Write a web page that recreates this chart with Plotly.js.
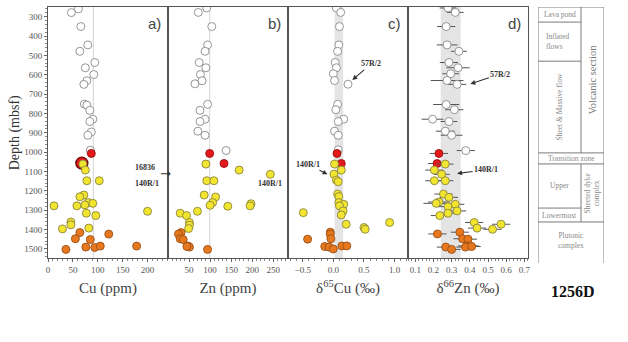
<!DOCTYPE html>
<html><head><meta charset="utf-8">
<script src="https://cdn.plot.ly/plotly-3.0.1.min.js"></script>
<style>html,body{margin:0;padding:0;background:#fff}#chart{width:628px;height:342px}</style>
</head><body><div id="chart"></div>
<script>
// ---------- DATA ----------
// Panel a: Cu (ppm)
const cuWhiteDepth = [260,279,351,446,479,537,564,599,631,650,752,757,784,830,842,896,913,990];
const cuWhite      = [61,47,66,80,64,94,75,92,78,72,73,78,84,90,84,87,80,85];
const cuRedDepth   = [1007];
const cuRed        = [87];
const cuRingDepth  = [1057];
const cuRing       = [68];
const cuYellowDepth= [1062,1093,1148,1148,1222,1231,1261,1265,1273,1278,1278,1306,1316,1328,1362,1376,1397,1393];
const cuYellow     = [70,75,78,103,72,64,81,90,74,58,12,200,77,96,46,46,29,82];
const cuOrangeDepth= [1416,1424,1448,1452,1491,1493,1486,1486,1503];
const cuOrange     = [64,122,55,85,76,94,105,178,36];
const cuMean = 91;

// Panel b: Zn (ppm)
const znWhiteDepth = [255,278,351,446,479,537,564,599,631,647,753,784,830,842,892,913,992];
const znWhite      = [92,72,104,94,88,74,90,77,81,64,94,76,88,76,71,88,138];
const znRedDepth   = [1007,1059];
const znRed        = [99,133];
const znYellowDepth= [1062,1093,1115,1148,1148,1222,1232,1261,1275,1280,1267,1278,1306,1316,1328,1364,1378,1395];
const znYellow     = [90,169,243,92,109,86,113,106,100,142,197,195,70,29,44,51,51,49];
const znOrangeDepth= [1416,1424,1448,1452,1485,1491,1488,1503];
const znOrange     = [31,25,29,36,47,51,45,94];
const znMean = 99;

// Panel c: d65Cu (permil)
const c65WhiteDepth = [255,278,351,446,479,537,564,595,630,649,753,781,830,842,892,913,988];
const c65White      = [0.05,0.12,0.10,0.09,0.07,0.03,0.05,0.00,0.02,0.24,0.07,0.04,0.17,0.08,0.02,0.08,0.08];
const c65WhiteErr   = [0,0,0,0,0,0,0.04,0.05,0,0,0,0,0,0,0,0,0];
const c65RedDepth   = [1007,1059];
const c65Red        = [0.06,0.13];
const c65YellowDepth= [1062,1093,1114,1145,1153,1217,1230,1261,1270,1278,1304,1325,1313,1373,1390,1399,1364];
const c65Yellow     = [0.02,0.13,0.01,0.05,0.08,0.07,0.09,0.09,0.17,0.10,0.16,0.13,-0.49,0.21,0.50,0.52,0.92];
const c65OrangeDepth= [1414,1424,1448,1450,1488,1491,1501,1485,1485];
const c65Orange     = [-0.05,-0.05,-0.04,-0.42,-0.14,-0.07,0.00,0.14,0.22];
const c65Band = [0.02, 0.16];

// Panel d: d66Zn (permil)
const z66WhiteDepth = [255,278,351,446,479,537,564,595,630,650,754,781,830,842,892,913,992];
const z66White      = [0.28,0.32,0.27,0.275,0.34,0.285,0.335,0.295,0.275,0.33,0.27,0.315,0.195,0.285,0.265,0.30,0.378];
const z66WhiteErr   = [0.046,0.046,0.05,0.057,0.044,0.05,0.064,0.046,0.09,0.05,0.072,0.05,0.06,0.046,0.052,0.06,0.05];
const z66RedDepth   = [1007,1059];
const z66Red        = [0.23,0.22];
const z66RedErr     = [0.05,0.05];
const z66YellowDepth= [1062,1093,1115,1148,1148,1217,1234,1258,1265,1270,1282,1304,1316,1328,1364,1373,1393,1399];
const z66Yellow     = [0.265,0.205,0.245,0.205,0.265,0.255,0.285,0.23,0.215,0.32,0.28,0.33,0.28,0.235,0.424,0.572,0.44,0.525];
const z66YellowErr  = [0.045,0.05,0.045,0.05,0.045,0.05,0.05,0.06,0.07,0.05,0.06,0.05,0.05,0.05,0.05,0.05,0.05,0.05];
const z66OrangeDepth= [1423,1414,1448,1450,1485,1485,1491,1491,1503,1488];
const z66Orange     = [0.222,0.345,0.36,0.39,0.385,0.40,0.376,0.268,0.30,0.41];
const z66OrangeErr  = [0.05,0.05,0.05,0.05,0.05,0.05,0.05,0.05,0.05,0.05];
const z66Band = [0.24, 0.35];

// Lithology (depth boundaries, mbsf)
const lithBounds = [250, 328, 530, 1004, 1061, 1289, 1361, 1573];

// ---------- STYLE ----------
const SERIF = '"Liberation Serif", "Times New Roman", serif';
const SANS = '"Liberation Sans", Arial, sans-serif';
const STY = {
  white:  {color:'#ffffff', line:'#8a8a8a'},
  red:    {color:'#e3191c', line:'#9a1010'},
  yellow: {color:'#f2e530', line:'#8c8440'},
  orange: {color:'#e8781e', line:'#9a5018'}
};
function pts(x, y, xa, ya, kind, err, size) {
  const t = {
    type:'scatter', mode:'markers', x:x, y:y, xaxis:xa, yaxis:ya,
    marker:{size:size||8, color:STY[kind].color, line:{color:STY[kind].line, width:0.9}},
    hoverinfo:'skip', showlegend:false
  };
  if (err) t.error_x = {type:'data', array:err, visible:true, color:'#555', thickness:1, width:0};
  return t;
}

const traces = [
  pts(cuWhite, cuWhiteDepth, 'x', 'y', 'white'),
  pts(cuRed, cuRedDepth, 'x', 'y', 'red'),
  {type:'scatter', mode:'markers', x:cuRing, y:cuRingDepth, xaxis:'x', yaxis:'y',
   marker:{size:12, color:'#e3191c', line:{color:'#6a0a0a', width:1.4}}, hoverinfo:'skip', showlegend:false},
  pts(cuYellow, cuYellowDepth, 'x', 'y', 'yellow'),
  pts(cuOrange, cuOrangeDepth, 'x', 'y', 'orange'),
  pts(znWhite, znWhiteDepth, 'x2', 'y2', 'white'),
  pts(znRed, znRedDepth, 'x2', 'y2', 'red'),
  pts(znYellow, znYellowDepth, 'x2', 'y2', 'yellow'),
  pts(znOrange, znOrangeDepth, 'x2', 'y2', 'orange'),
  pts(c65White, c65WhiteDepth, 'x3', 'y3', 'white', c65WhiteErr),
  pts(c65Red, c65RedDepth, 'x3', 'y3', 'red'),
  pts(c65Yellow, c65YellowDepth, 'x3', 'y3', 'yellow'),
  pts(c65Orange, c65OrangeDepth, 'x3', 'y3', 'orange'),
  pts(z66White, z66WhiteDepth, 'x4', 'y4', 'white', z66WhiteErr),
  pts(z66Red, z66RedDepth, 'x4', 'y4', 'red', z66RedErr),
  pts(z66Yellow, z66YellowDepth, 'x4', 'y4', 'yellow', z66YellowErr),
  pts(z66Orange, z66OrangeDepth, 'x4', 'y4', 'orange', z66OrangeErr)
];

// ---------- LAYOUT ----------
const yDom = [0.0176, 1];
const depthRange = [1550, 250];
const tickFont = {family:SERIF, size:9, color:'#555'};
const titleFont = {family:SERIF, size:15, color:'#444'};
function xax(dom, anchor, range, tickvals, minorDt, title, fmt) {
  return {
    domain:dom, anchor:anchor, range:range, tickvals:tickvals, tickformat:fmt||'',
    ticks:'outside', ticklen:3, tickwidth:1, tickcolor:'#666',
    minor:{dtick:minorDt, ticks:'outside', ticklen:2, tickcolor:'#888'},
    showline:true, linecolor:'#555', linewidth:1, mirror:true,
    showgrid:false, zeroline:false, tickfont:tickFont,
    title:{text:title, font:titleFont, standoff:8}
  };
}
function yax(anchor, main) {
  const o = {domain:yDom, anchor:anchor, range:depthRange, showgrid:false, zeroline:false,
    showline:true, linecolor:'#555', linewidth:1, mirror:true};
  if (main) {
    Object.assign(o, {tickvals:[300,400,500,600,700,800,900,1000,1100,1200,1300,1400,1500],
      ticks:'outside', ticklen:3, tickcolor:'#666', tickfont:tickFont,
      minor:{dtick:20, ticks:'outside', ticklen:2, tickcolor:'#888'},
      title:{text:'Depth (mbsf)', font:{family:SERIF, size:14, color:'#333'}, standoff:1}});
  } else {
    Object.assign(o, {matches:'y', showticklabels:false, ticks:''});
  }
  return o;
}

const dA=[0,0.2158], dB=[0.2158,0.4317], dC=[0.4317,0.6475], dD=[0.6475,0.8633], dL=[0.8813,1];

const shapes = [
  {type:'line', xref:'x', x0:cuMean, x1:cuMean, yref:'y domain', y0:0, y1:1, line:{color:'#d4d4d4', width:1}, layer:'below'},
  {type:'line', xref:'x2', x0:znMean, x1:znMean, yref:'y2 domain', y0:0, y1:1, line:{color:'#d4d4d4', width:1}, layer:'below'},
  {type:'rect', xref:'x3', x0:c65Band[0], x1:c65Band[1], yref:'y3 domain', y0:0, y1:1, fillcolor:'#e4e4e4', line:{width:0}, layer:'below'},
  {type:'rect', xref:'x4', x0:z66Band[0], x1:z66Band[1], yref:'y4 domain', y0:0, y1:1, fillcolor:'#e4e4e4', line:{width:0}, layer:'below'}
];
const LW = 43, RW = 66;
const lc = {color:'#7a7a7a', width:1};
function L(x0,x1,y0,y1){ shapes.push({type:'line', xref:'x5', yref:'y5', x0:x0, x1:x1, y0:y0, y1:y1, line:lc}); }
const B = lithBounds;
L(0,0,B[0],B[7]); L(RW,RW,B[0],B[7]); L(0,RW,B[0],B[0]);
L(LW,LW,B[0],B[3]); L(LW,LW,B[4],B[6]);
L(0,LW,B[1],B[1]); L(0,LW,B[2],B[2]); L(0,LW,B[5],B[5]);
L(0,RW,B[3],B[3]); L(0,RW,B[4],B[4]); L(0,RW,B[6],B[6]);

const annFont = {family:SERIF, size:8, color:'#333', weight:'bold'};
const lithFont = {family:SERIF, size:7.5, color:'#8a8a8a'};
function panelLbl(t, xr, yr){ return {text:t, xref:xr+' domain', yref:yr+' domain', x:0.955, y:0.975, xanchor:'right', yanchor:'top', showarrow:false, font:{family:SANS, size:15, color:'#444'}}; }
function txt(t, xr, yr, x, y, f, extra){ return Object.assign({text:t, xref:xr, yref:yr, x:x, y:y, showarrow:false, font:f||annFont}, extra||{}); }
function arrTxt(t, xr, yr, x, y, ax, ay){ return {text:t, xref:xr, yref:yr, x:x, y:y, ax:ax, ay:ay, showarrow:true, arrowhead:2, arrowsize:0.9, arrowwidth:1.1, arrowcolor:'#333', standoff:0, font:annFont}; }
const mid = (a,b)=>(a+b)/2;

const annotations = [
  panelLbl('a)','x','y'), panelLbl('b)','x2','y2'), panelLbl('c)','x3','y3'), panelLbl('d)','x4','y4'),
  txt('16836','x','y',195,1082), txt('140R/1','x','y',199,1160),
  txt('→','x','y',236,1110,{family:'DejaVu Sans', size:13, color:'#333'}),
  txt('140R/1','x2','y2',243,1160),
  arrTxt('57R/2','x3','y3',0.31,627,19,-16),
  arrTxt('140R/1','x3','y3',-0.095,1115,-20,-10),
  arrTxt('57R/2','x4','y4',0.403,648,30,-10),
  arrTxt('140R/1','x4','y4',0.33,1111,29,-4),
  txt('Lava pond','x5','y5',LW/2,mid(B[0],B[1]),lithFont),
  txt('Inflated<br>flows','x5','y5',6,mid(B[1],B[2]),lithFont,{xanchor:'left', align:'left'}),
  txt('Sheet &amp; Massive flow','x5','y5',LW/2,mid(B[2],B[3]),lithFont,{textangle:-90}),
  txt('Volcanic section','x5','y5',mid(LW,RW),mid(B[0],B[3]),{family:SERIF, size:10.5, color:'#777'},{textangle:-90}),
  txt('Transition zone','x5','y5',RW/2,mid(B[3],B[4]),lithFont),
  txt('Upper','x5','y5',LW/2,mid(B[4],B[5]),lithFont),
  txt('Lowermost','x5','y5',LW/2,mid(B[5],B[6]),lithFont),
  txt('Sheeted dyke<br>complex','x5','y5',mid(LW,RW),mid(B[4],B[6]),lithFont,{textangle:-90}),
  txt('Plutonic<br>complex','x5','y5',RW/2,mid(B[6],B[7]) - 10,lithFont),
  {text:'<b>1256D</b>', xref:'paper', yref:'paper', x:0.944, y:-0.113, xanchor:'center', yanchor:'middle', showarrow:false, font:{family:SERIF, size:16, color:'#111'}}
];

const layout = {
  width:628, height:342, margin:{l:48, r:24, t:7, b:79},
  paper_bgcolor:'#fff', plot_bgcolor:'rgba(0,0,0,0)', font:{family:SERIF},
  showlegend:false,
  xaxis:  xax(dA,'y', [0,241],[0,50,100,150,200],10,'Cu (ppm)'),
  xaxis2: xax(dB,'y2',[0,285],[50,100,150,200,250],10,'Zn (ppm)'),
  xaxis3: xax(dC,'y3',[-0.74,1.22],[-0.5,0,0.5,1.0],0.1,'δ<sup>65</sup>Cu (‰)','.1f'),
  xaxis4: xax(dD,'y4',[0.06,0.72],[0.1,0.2,0.3,0.4,0.5,0.6,0.7],0.02,'δ<sup>66</sup>Zn (‰)','.1f'),
  yaxis:  yax('x', true),
  yaxis2: yax('x2'), yaxis3: yax('x3'), yaxis4: yax('x4'),
  xaxis5: {domain:dL, anchor:'y5', range:[0,RW], visible:false, fixedrange:true},
  yaxis5: {domain:[0,1], anchor:'x5', range:[B[7],B[0]], visible:false, fixedrange:true},
  shapes:shapes, annotations:annotations
};
Plotly.newPlot('chart', traces, layout, {displayModeBar:false, staticPlot:true});
</script></body></html>
